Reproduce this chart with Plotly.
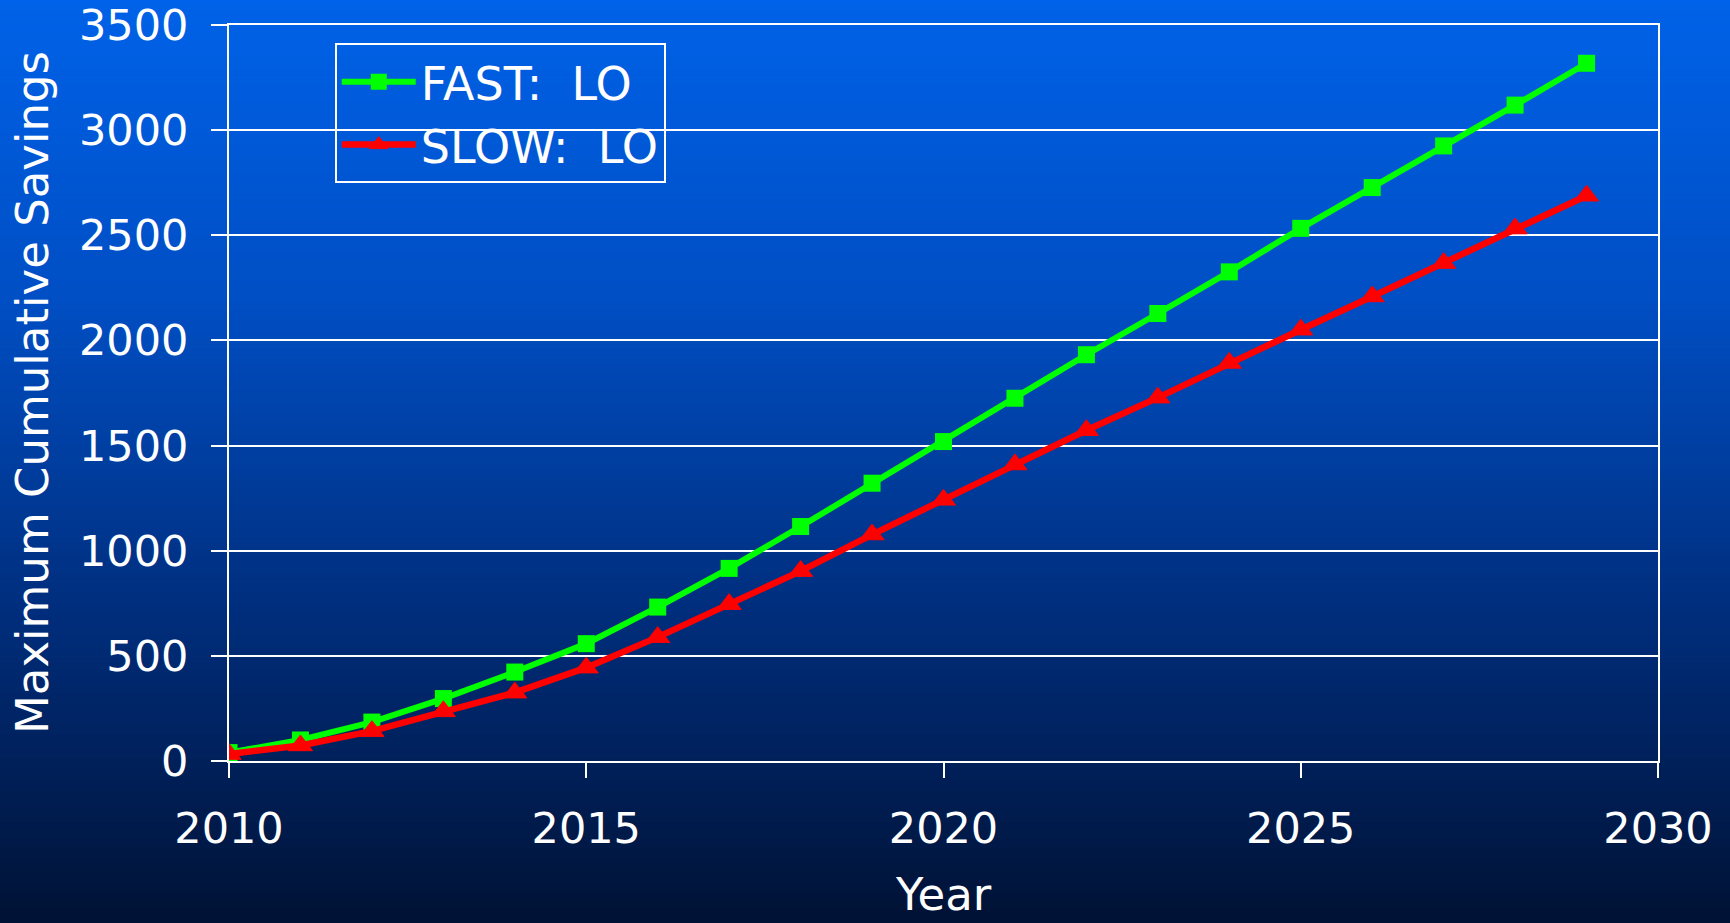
import plotly.graph_objects as go

years = list(range(2010, 2030))
fast_lo = [40, 100, 185, 297, 423, 558, 732, 916, 1115, 1321, 1519, 1725, 1932, 2128, 2326, 2533, 2727, 2925, 3119, 3318]
slow_lo = [33, 74, 142, 236, 325, 444, 589, 746, 903, 1077, 1242, 1410, 1573, 1728, 1893, 2051, 2209, 2368, 2532, 2688]
series_names = ["FAST:\u00a0 LO", "SLOW:\u00a0 LO"]
y_ticks = [0, 500, 1000, 1500, 2000, 2500, 3000, 3500]
x_ticks = [2010, 2015, 2020, 2025, 2030]
x_title = "Year"
y_title = "Maximum Cumulative Savings"

W, H = 1730, 923
L, R, T, B = 229, 72, 25, 162
pw, ph = W - L - R, H - T - B

FONT = "DejaVu Sans"

fig = go.Figure()
fig.add_trace(go.Scatter(x=years, y=fast_lo, name=series_names[0], mode="lines+markers",
                         line=dict(color="#00ff00", width=6),
                         marker=dict(symbol="square", size=17, color="#00ff00")))
fig.add_trace(go.Scatter(x=years, y=slow_lo, name=series_names[1], mode="lines+markers",
                         line=dict(color="#ff0000", width=6.5),
                         marker=dict(symbol="triangle-up", size=21, color="#ff0000",
                                     line=dict(color="#ff0000", width=1))))

# vertical gradient background via bands
stops = [(0.0, (0, 98, 232)), (0.33, (0, 78, 195)), (0.66, (0, 46, 125)), (0.85, (0, 30, 85)), (1.0, (0, 18, 52))]

def col(t):
    for (a, ca), (b, cb) in zip(stops[:-1], stops[1:]):
        if a <= t <= b:
            f = (t - a) / (b - a)
            return "rgb(%d,%d,%d)" % tuple(round(ca[i] + f * (cb[i] - ca[i])) for i in range(3))
    return "rgb(%d,%d,%d)" % stops[-1][1]

n = 185
shapes = []
for k in range(n):
    y0 = k * H / n
    y1 = (k + 1) * H / n + 1
    t = (k + 0.5) / n
    shapes.append(dict(type="rect", xref="paper", yref="paper", layer="below",
                       x0=-L / pw, x1=(W - L) / pw,
                       y0=(H - B - y1) / ph, y1=(H - B - y0) / ph,
                       fillcolor=col(t), line=dict(width=0)))

annotations = [
    dict(text=x_title, xref="paper", yref="paper", x=0.5, y=(H - B - 923) / ph,
         xanchor="center", yanchor="bottom", showarrow=False,
         font=dict(family=FONT, size=45, color="white")),
    dict(text=y_title, xref="paper", yref="paper", x=(32 - L) / pw, y=0.5,
         xanchor="center", yanchor="middle", textangle=-90, showarrow=False,
         font=dict(family=FONT, size=45, color="white")),
]

fig.update_layout(
    width=W, height=H,
    margin=dict(l=L, r=R, t=T, b=B, autoexpand=False),
    paper_bgcolor="rgb(0,18,52)",
    plot_bgcolor="rgba(0,0,0,0)",
    shapes=shapes,
    annotations=annotations,
    font=dict(family=FONT, color="white", size=43),
    showlegend=True,
    legend=dict(x=0.074, y=0.975, xanchor="left", yanchor="top",
                bgcolor="rgba(0,0,0,0)", bordercolor="white", borderwidth=2,
                font=dict(family=FONT, size=46, color="white"),
                itemwidth=74),
    xaxis=dict(range=[2010, 2030], tickvals=x_ticks, showgrid=False,
               showline=True, linecolor="white", linewidth=2, mirror=True,
               ticks="outside", ticklen=15, tickcolor="white", tickwidth=1.5,
               tickfont=dict(size=43), ticklabelstandoff=13,
               zeroline=False),
    yaxis=dict(range=[0, 3500], tickvals=y_ticks, showgrid=True, gridcolor="white", gridwidth=2,
               showline=True, linecolor="white", linewidth=2, mirror=True,
               ticks="outside", ticklen=16, tickcolor="white", tickwidth=1.5,
               tickfont=dict(size=43), ticklabelstandoff=14,
               zeroline=False),
)

fig.write_html("out.html", config={"displayModeBar": False},
               post_script="document.body.style.margin='0';document.body.style.background='rgb(0,18,52)';document.body.style.overflow='hidden';")
